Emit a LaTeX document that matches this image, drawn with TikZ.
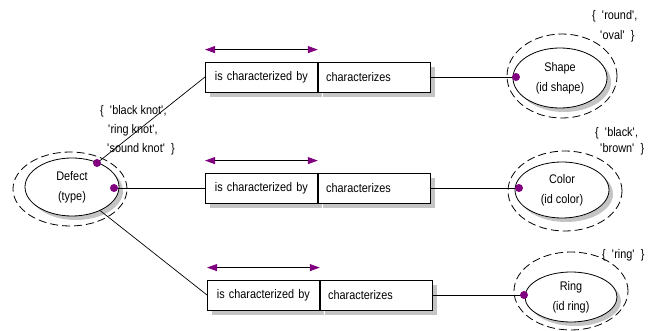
\documentclass[tikz,border=0pt]{standalone}
\usepackage{fontspec}
\setmainfont{Liberation Sans}[FakeStretch=0.87]
\usetikzlibrary{shapes.geometric,arrows.meta,shadows}
\definecolor{dotpurple}{HTML}{800080}
\definecolor{shgray}{HTML}{C4C4C4}
\newcommand{\aposq}{\textquotesingle}
\begin{document}
\begin{tikzpicture}[x=1pt,y=-1pt,
  every node/.style={font=\fontsize{12.5}{20}\selectfont},
  ent/.style={ellipse, draw, fill=white, line width=0.8pt, align=center, inner sep=0pt,
    drop shadow={shadow xshift=4pt, shadow yshift=-4pt, fill=shgray, opacity=1}},
  dom/.style={ellipse, draw, line width=0.8pt, dash pattern=on 8pt off 4pt, inner sep=0pt},
  pin/.style={circle, fill=dotpurple, inner sep=0pt, minimum size=8pt},
  rolel/.style={rectangle, draw, fill=white, line width=0.8pt, minimum height=30pt,
    text width=96pt, inner xsep=8pt, align=center,
    drop shadow={shadow xshift=5pt, shadow yshift=-5pt, fill=shgray, opacity=1}},
  roler/.style={rolel, align=left},
  dirarrow/.style={line width=0.8pt,
    {Triangle[length=10pt,width=7pt,color=dotpurple]}-{Triangle[length=10pt,width=7pt,color=dotpurple]}},
  link/.style={line width=0.7pt},
  note/.style={align=left, anchor=north west, inner sep=0pt}
]
\useasboundingbox (0,0) rectangle (670,331);

% entity ellipses
\node[ent, minimum width=94pt, minimum height=58pt] (defect) at (72,187) {Defect\\(type)};
\node[dom, minimum width=114pt, minimum height=74pt] (defectdom) at (70,189) {};

\node[ent, minimum width=94pt, minimum height=60pt] (shape) at (560,78) {Shape\\(id shape)};
\node[dom, minimum width=110pt, minimum height=84pt] (shapedom) at (562,76) {};

\node[ent, minimum width=94pt, minimum height=56pt] (color) at (562,190) {Color\\(id color)};
\node[dom, minimum width=114pt, minimum height=80pt] (colordom) at (565,191) {};

\node[ent, minimum width=92pt, minimum height=50pt] (ring) at (571,297) {Ring\\(id ring)};
\node[dom, minimum width=114pt, minimum height=78pt] (ringdom) at (571,291) {};

% role boxes
\node[rolel, anchor=west] (r1a) at (205,77) {is characterized by};
\node[roler, anchor=west] (r1b) at (r1a.east) {characterizes};
\node[rolel, anchor=west] (r2a) at (205,188) {is characterized by};
\node[roler, anchor=west] (r2b) at (r2a.east) {characterizes};
\node[rolel, anchor=west] (r3a) at (207,295) {is characterized by};
\node[roler, anchor=west] (r3b) at (r3a.east) {characterizes};

% reading direction arrows
\draw[dirarrow] ([yshift=12pt]r1a.north west) -- ([yshift=12pt]r1a.north east);
\draw[dirarrow] ([yshift=12pt]r2a.north west) -- ([yshift=12pt]r2a.north east);
\draw[dirarrow] ([yshift=12pt]r3a.north west) -- ([yshift=12pt]r3a.north east);

% connector end points
\coordinate (c1) at (97,163);
\coordinate (c2) at (114,188);
\coordinate (c3) at (516,77);
\coordinate (c4) at (519,188);
\coordinate (c5) at (524,295);

\draw[link] (c1) -- (r1a.west);
\draw[link] (c2) -- (r2a.west);
\draw[link] (defect.-40) -- (r3a.west);
\draw[link] (r1b.east) -- (c3);
\draw[link] (r2b.east) -- (c4);
\draw[link] (r3b.east) -- (c5);

\node[pin] (p1) at (c1) {};
\node[pin] (p2) at (c2) {};
\node[pin] (p3) at (c3) {};
\node[pin] (p4) at (c4) {};
\node[pin] (p5) at (c5) {};

% value constraints
\node[note, font=\fontsize{12.5}{19}\selectfont] (n1) at (100,105)
  {\{\ \ \aposq black knot\aposq,\\\hspace*{8pt}\aposq ring knot\aposq,\\\hspace*{7pt}\aposq sound knot\aposq\ \ \}};
\node[note, font=\fontsize{12.5}{20}\selectfont] (n2) at (592,10)
  {\{\ \ \aposq round\aposq,\\\hspace*{8pt}\aposq oval\aposq\ \ \}};
\node[note, font=\fontsize{12.5}{16}\selectfont] (n3) at (595,127)
  {\{\ \ \aposq black\aposq,\\\hspace*{5pt}\aposq brown\aposq\ \ \}};
\node[note] (n4) at (602,249) {\{\ \ \aposq ring\aposq\ \ \}};
\end{tikzpicture}
\end{document}
